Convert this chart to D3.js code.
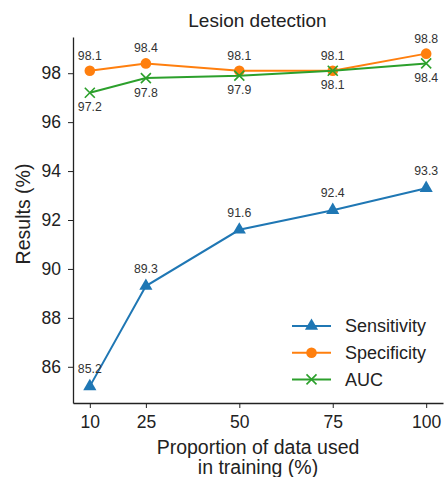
<!DOCTYPE html>
<html>
<head>
<meta charset="utf-8">
<script src="https://cdn.jsdelivr.net/npm/d3@7"></script>
<style>
  body { margin: 0; background: #fff; }
  svg { font-family: "Liberation Sans", Arial, sans-serif; }
</style>
</head>
<body>
<div id="chart"></div>
<script>
// data
const proportions = [10, 25, 50, 75, 100];
const sensitivity = [85.2, 89.3, 91.6, 92.4, 93.3];
const specificity = [98.1, 98.4, 98.1, 98.1, 98.8];
const auc = [97.2, 97.8, 97.9, 98.1, 98.4];
const yTicks = [86, 88, 90, 92, 94, 96, 98];

const width = 446;
const height = 477;
const margin = { top: 37, right: 3, bottom: 74, left: 73 };

const svg = d3.select("#chart")
  .append("svg")
  .attr("width", width)
  .attr("height", height);

const x = d3.scaleLinear()
  .domain([5.5, 104.5])
  .range([margin.left, width - margin.right]);

const y = d3.scaleLinear()
  .domain([84.52, 99.48])
  .range([height - margin.bottom, margin.top]);

// axes
const xAxis = svg.append("g")
  .attr("transform", `translate(0,${height - margin.bottom})`)
  .call(d3.axisBottom(x).tickValues(proportions).tickSize(5).tickPadding(8).tickSizeOuter(0));

const yAxis = svg.append("g")
  .attr("transform", `translate(${margin.left},0)`)
  .call(d3.axisLeft(y).tickValues(yTicks).tickSize(5).tickPadding(7).tickSizeOuter(0));

[xAxis, yAxis].forEach(g => {
  g.select(".domain").attr("stroke", "#222").attr("stroke-width", 1.3);
  g.selectAll(".tick line").attr("stroke", "#222").attr("stroke-width", 1);
  g.selectAll(".tick text")
    .attr("fill", "#222")
    .style("font-size", "17.5px")
    .style("font-family", "Liberation Sans, Arial, sans-serif");
});

// title and labels
svg.append("text")
  .attr("x", 257.5)
  .attr("y", 26.5)
  .attr("text-anchor", "middle")
  .attr("fill", "#222")
  .style("font-size", "19px")
  .text("Lesion detection");

svg.append("text")
  .attr("transform", "translate(30,214) rotate(-90)")
  .attr("text-anchor", "middle")
  .attr("fill", "#222")
  .style("font-size", "19.5px")
  .text("Results (%)");

svg.append("text")
  .attr("x", 258)
  .attr("y", 454)
  .attr("text-anchor", "middle")
  .attr("fill", "#222")
  .style("font-size", "19.5px")
  .text("Proportion of data used");

svg.append("text")
  .attr("x", 258)
  .attr("y", 474)
  .attr("text-anchor", "middle")
  .attr("fill", "#222")
  .style("font-size", "19.5px")
  .text("in training (%)");

// series
const series = [
  { name: "Sensitivity", values: sensitivity, color: "#1f77b4", marker: "triangle", labelDy: -13 },
  { name: "Specificity", values: specificity, color: "#ff7f0e", marker: "circle", labelDy: -11 },
  { name: "AUC", values: auc, color: "#2ca02c", marker: "x", labelDy: 18.5 }
];

const line = d3.line()
  .x(d => x(d.p))
  .y(d => y(d.v));

function drawMarker(g, type, color) {
  if (type === "triangle") {
    g.append("path")
      .attr("d", d3.symbol().type(d3.symbolTriangle).size(75)())
      .attr("fill", color);
  } else if (type === "circle") {
    g.append("circle").attr("r", 5.3).attr("fill", color);
  } else {
    g.append("path")
      .attr("d", "M-5,-5L5,5M-5,5L5,-5")
      .attr("stroke", color)
      .attr("stroke-width", 1.6)
      .attr("fill", "none");
  }
}

series.forEach(s => {
  const pts = proportions.map((p, i) => ({ p, v: s.values[i] }));
  svg.append("path")
    .datum(pts)
    .attr("d", line)
    .attr("fill", "none")
    .attr("stroke", s.color)
    .attr("stroke-width", 2);

  pts.forEach(d => {
    const g = svg.append("g").attr("transform", `translate(${x(d.p)},${y(d.v)})`);
    drawMarker(g, s.marker, s.color);
  });
});

// value labels
series.forEach(s => {
  proportions.forEach((p, i) => {
    svg.append("text")
      .attr("x", x(p))
      .attr("y", y(s.values[i]) + s.labelDy)
      .attr("text-anchor", "middle")
      .attr("fill", "#333")
      .style("font-size", "12.3px")
      .text(s.values[i].toFixed(1));
  });
});

// legend
const legend = svg.append("g").attr("transform", "translate(292,326)");
series.forEach((s, i) => {
  const row = legend.append("g").attr("transform", `translate(0,${i * 26.7})`);
  row.append("line")
    .attr("x1", 0).attr("x2", 39)
    .attr("stroke", s.color)
    .attr("stroke-width", 2);
  const m = row.append("g").attr("transform", "translate(19.5,0)");
  drawMarker(m, s.marker, s.color);
  row.append("text")
    .attr("x", 53)
    .attr("y", 6.3)
    .attr("fill", "#222")
    .style("font-size", "18px")
    .text(s.name);
});
</script>
</body>
</html>
